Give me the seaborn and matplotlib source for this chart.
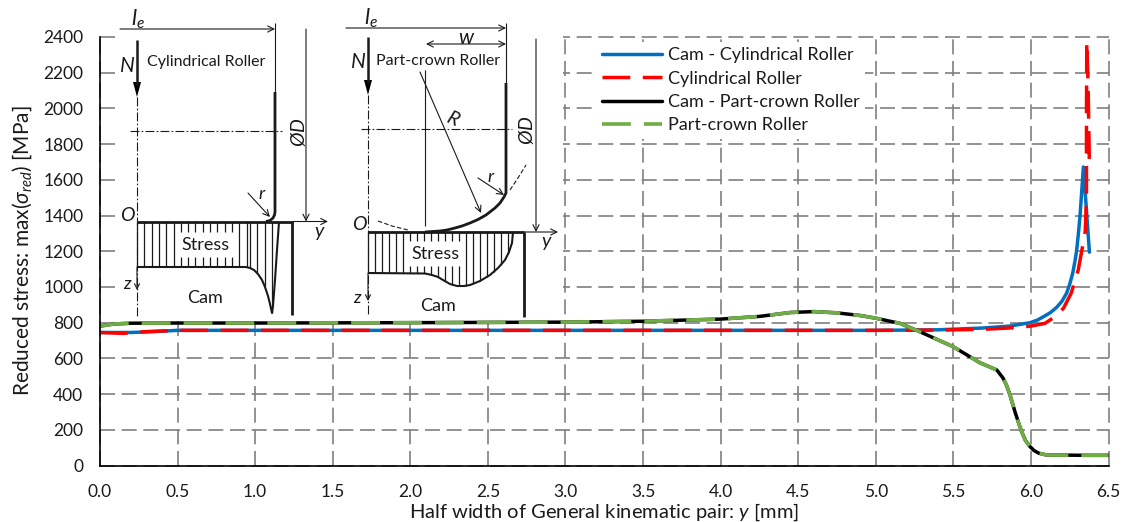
import seaborn as sns
import numpy as np
import matplotlib.pyplot as plt
import matplotlib.patches as mpatches

# values
cyl_cam_x = [0.0, 0.2, 0.35, 0.5, 1.0, 2.0, 3.0, 4.0, 5.0, 5.4, 5.69, 5.865, 5.995, 6.04, 6.08, 6.125, 6.166, 6.2, 6.23, 6.25, 6.27, 6.285, 6.295, 6.305, 6.316, 6.327, 6.338, 6.358, 6.377]
cyl_cam_y = [745, 745, 750, 757, 757, 757, 757, 757, 757, 760, 770, 781, 800, 814, 833, 856, 886, 920, 965, 1015, 1080, 1150, 1207, 1290, 1393, 1530, 1672, 1430, 1195]
cyl_roller_x = [0.0, 0.15, 0.3, 0.5, 1.0, 2.0, 3.0, 4.0, 5.0, 5.4, 5.7, 5.9, 6.0, 6.09, 6.15, 6.21, 6.26, 6.305, 6.325, 6.35, 6.358, 6.358, 6.36, 6.368, 6.373, 6.377]
cyl_roller_y = [745, 740, 750, 757, 757, 757, 757, 757, 757, 758, 763, 772, 781, 796, 830, 881, 966, 1095, 1190, 1310, 1500, 1950, 2374, 2150, 1900, 1672]
crown_x = [0.0, 0.05, 0.1, 0.2, 0.5, 1.0, 2.0, 3.0, 3.5, 4.0, 4.25, 4.35, 4.45, 4.6, 4.75, 4.9, 5.0, 5.156, 5.285, 5.5, 5.67, 5.74, 5.78, 5.82, 5.845, 5.865, 5.9, 5.92, 5.94, 5.965, 5.995, 6.02, 6.05, 6.1, 6.36, 6.5]
crown_y = [780, 788, 793, 797, 798, 798, 800, 803, 808, 820, 835, 846, 857, 862, 855, 840, 825, 796, 749, 665, 576, 550, 535, 490, 445, 395, 293, 240, 190, 140, 105, 84, 69, 59, 57, 57]
x_ticks = [0.0, 0.5, 1.0, 1.5, 2.0, 2.5, 3.0, 3.5, 4.0, 4.5, 5.0, 5.5, 6.0, 6.5]
y_ticks = list(range(0, 2401, 200))

W, H = 1127, 522
sns.set_theme(style='ticks')
plt.rcParams['font.family'] = ['Lato', 'DejaVu Sans']
plt.rcParams['mathtext.fontset'] = 'custom'
plt.rcParams['mathtext.rm'] = 'Lato'
plt.rcParams['mathtext.it'] = 'Lato:italic'
plt.rcParams['mathtext.bf'] = 'Lato:bold'
INK = '#1a1a1a'

fig = plt.figure(figsize=(W/100, H/100), dpi=100)
ax = fig.add_axes([100/W, (H-465.5)/H, 1008.5/W, 428.5/H])

dash = (0, (8, 3.6))
sns.lineplot(x=cyl_cam_x, y=cyl_cam_y, sort=False, estimator=None, color='#0070c0',
             lw=2.5, label='Cam - Cylindrical Roller', ax=ax)
sns.lineplot(x=cyl_roller_x, y=cyl_roller_y, sort=False, estimator=None, color='#ff0000',
             lw=2.5, linestyle=dash, dash_capstyle='butt', label='Cylindrical Roller', ax=ax)
sns.lineplot(x=crown_x, y=crown_y, sort=False, estimator=None, color='black',
             lw=2.5, label='Cam - Part-crown Roller', ax=ax)
sns.lineplot(x=crown_x, y=crown_y, sort=False, estimator=None, color='#70ad47',
             lw=2.6, linestyle=dash, dash_capstyle='butt', label='Part-crown Roller', ax=ax)

ax.set_xlim(0, 6.5)
ax.set_ylim(0, 2400)
ax.set_xticks(x_ticks)
ax.set_xticklabels(['%.1f' % t for t in x_ticks])
ax.set_yticks(y_ticks)
ax.tick_params(length=0, labelsize=12.5, labelcolor=INK)
ax.tick_params(axis='y', pad=12)
ax.tick_params(axis='x', pad=13)
ax.grid(True, color='#7f7f7f', lw=1.2, linestyle=(0, (9, 4)))
ax.set_axisbelow(True)
for g in ax.get_xgridlines() + ax.get_ygridlines():
    g.set_clip_on(False)
sns.despine(ax=ax)
for s in ['left', 'bottom']:
    ax.spines[s].set_color('black')
    ax.spines[s].set_linewidth(1.2)

leg = ax.legend(loc='upper left', bbox_to_anchor=(597/W, (H-42)/H), bbox_transform=fig.transFigure,
                frameon=True, framealpha=1, facecolor='white', edgecolor='none', fancybox=False,
                fontsize=13, handlelength=3.3, handletextpad=0.33, labelspacing=0.4,
                borderaxespad=0, borderpad=0.3)
for t in leg.get_texts():
    t.set_color(INK)

fig.text(604/W, 1-512/H, 'Half width of General kinematic pair: $\\mathit{y}$ [mm]',
         ha='center', va='center', fontsize=14.5, color=INK)
fig.text(22/W, 1-251/H, 'Reduced stress: max($\\mathit{\\sigma_{red}}$) [MPa]',
         ha='center', va='center', rotation=90, fontsize=15, color=INK)

# the two roller sketches, drawn in pixel positions on a clear overlay
sk = fig.add_axes([0, 0, 1, 1], facecolor='none')
sk.set_xlim(0, W)
sk.set_ylim(H, 0)
sk.axis('off')
sk.add_patch(mpatches.Rectangle((117, 20), 446, 298, fc='white', ec='none', zorder=0))


def arrow(a, b, style='->', lw=0.8, ms=11):
    sk.annotate('', xy=b, xytext=a, arrowprops=dict(arrowstyle=style, lw=lw, color=INK,
                shrinkA=0, shrinkB=0, mutation_scale=ms))


def label(x, y, s, size=11, **kw):
    sk.text(x, y, s, ha='center', va='center', fontsize=size, color=INK, **kw)


def line(xs, ys, lw=0.8, ls='-'):
    sk.plot(xs, ys, color=INK, lw=lw, ls=ls, solid_capstyle='butt')


def stress_hatch(x0, x1, step, top, cx, cy, gap=None):
    for x in np.arange(x0, x1, step):
        y = np.interp(x, cx, cy)
        if gap and gap[0] < x < gap[1]:
            line([x, x], [top, gap[2]], 0.9)
            line([x, x], [gap[3], y], 0.9)
        else:
            line([x, x], [top, y], 0.9)


def force(x, y0, y1):
    line([x, x], [y0, y1-12], 1.8)
    sk.add_patch(mpatches.Polygon([[x-4, y1-15], [x+4, y1-15], [x, y1]], fc='black', ec='none'))


dd = (0, (8, 2, 1.5, 2))
# left sketch, cylindrical roller
label(138, 19, '$\\mathit{l_e}$', 16)
arrow((120, 29), (275, 29))
line([275, 275], [23, 92])
force(137, 40, 97)
label(127, 66, '$\\mathit{N}$', 15)
label(206, 62, 'Cylindrical Roller', 11.5)
line([137, 137], [97, 316], 0.8, dd)
line([130, 282], [131, 131], 0.8, dd)
line([275, 275, 274.5, 273, 270, 266], [92, 212, 215, 218, 220.5, 221.5], 2)
line([137, 293], [221.5, 221.5], 2)
arrow((293, 221.5), (328, 221.5))
line([292, 292], [221, 315], 2)
arrow((306, 29), (306, 221.5))
label(298, 132, '$\\mathit{\\O D}$', 14, rotation=90)
arrow((248, 193), (270, 217))
label(262, 194, '$\\mathit{r}$', 13)
label(320, 234, '$\\mathit{y}$', 14)
label(128, 215, '$\\mathit{O}$', 14)
cyl_sx = [137, 246, 250, 254, 258, 262, 265, 268, 270, 272, 273, 275, 277, 279]
cyl_sy = [267, 267, 268, 270, 274, 280, 287, 296, 304, 313, 306, 280, 250, 222]
stress_hatch(137, 250, 7.3, 221.5, cyl_sx[:2], cyl_sy[:2], (177, 236, 232, 257))
stress_hatch(250, 272, 7.3, 221.5, cyl_sx[:10], cyl_sy[:10])
line(cyl_sx, cyl_sy, 1.5)
arrow((137, 267), (137, 290), ms=9)
label(128, 284, '$\\mathit{z}$', 13)
label(205, 298, 'Cam', 13)
label(205, 245, 'Stress', 13)

# right sketch, part-crown roller
label(371, 18, '$\\mathit{l_e}$', 16)
arrow((346, 28), (506, 28))
line([506, 506], [23, 83])
arrow((506, 44), (426, 44), '<->')
label(467, 38, '$\\mathit{w}$', 15)
line([425, 425], [70, 226], 0.8)
force(368, 37, 95)
label(358, 62, '$\\mathit{N}$', 15)
label(438, 61, 'Part-crown Roller', 11.5)
line([368, 368], [95, 316], 0.8, dd)
line([361, 512], [129, 129], 0.8, dd)
line([506, 506, 504, 500, 495, 486, 478, 470, 462, 455, 447, 440, 425],
     [83, 193, 197, 203, 208, 215, 219.5, 223, 226, 228, 230, 231, 232], 2)
line([368, 524], [232, 232], 2)
arrow((524, 232), (558, 232))
line([524, 524], [232, 317], 2)
line([510, 518, 526], [190, 178, 165], 0.8, (0, (4, 2)))
line([378, 392, 408], [221, 226, 230], 0.8, (0, (4, 2)))
arrow((420, 72), (481, 213))
label(453, 118, '$\\mathit{R}$', 14, rotation=-25)
arrow((478, 178), (504, 195))
label(491, 177, '$\\mathit{r}$', 13)
arrow((536, 39), (536, 232))
label(527, 130, '$\\mathit{\\O D}$', 14, rotation=90)
label(547, 243, '$\\mathit{y}$', 14)
label(360, 224, '$\\mathit{O}$', 14)
crown_sx = [368, 425, 432, 438, 443, 450, 457, 464, 470, 480, 490, 498, 505, 509, 512, 513]
crown_sy = [273, 273.5, 275, 277, 280, 284, 286, 286, 285, 281, 275, 268, 260, 252, 243, 232]
stress_hatch(368, 513, 7, 232, crown_sx, crown_sy, (408, 462, 241, 266))
line(crown_sx, crown_sy, 1.5)
arrow((368, 273), (368, 301), ms=9)
label(358, 298, '$\\mathit{z}$', 13)
label(438, 306, 'Cam', 13)
label(435, 254, 'Stress', 13)

plt.savefig('out.png', dpi=100)
